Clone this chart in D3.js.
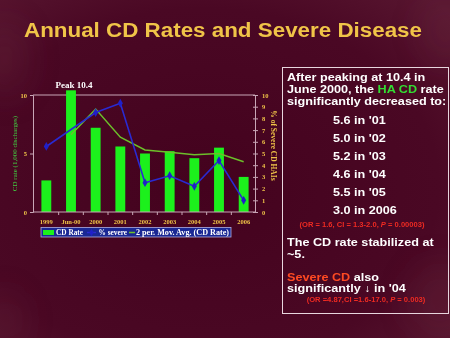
<!DOCTYPE html>
<html>
<head>
<meta charset="utf-8">
<script src="https://cdn.jsdelivr.net/npm/d3@7"></script>
<style>
body { margin: 0; background: #4a0823; }
svg { display: block; }
</style>
</head>
<body>
<script>
var categories = ["1999", "Jun-00", "2000", "2001", "2002", "2003", "2004", "2005", "2006"];
var cdRate = [2.7, 10.4, 7.2, 5.6, 5.0, 5.2, 4.6, 5.5, 3.0];
var pctSevere = [5.6, null, 8.5, 9.3, 2.5, 3.1, 2.2, 4.4, 1.0];
var movAvg = [null, 6.6, 8.8, 6.4, 5.3, 5.1, 4.9, 5.0, 4.3];
var leftTicks = [0, 5, 10];
var rightTicks = [0, 1, 2, 3, 4, 5, 6, 7, 8, 9, 10];
var legendLabels = ["CD Rate", "% severe", "2 per. Mov. Avg. (CD Rate)"];

var titleText = "Annual CD Rates and Severe Disease";
var introLines = [
	[["After peaking at 10.4 in", "#fff"]],
	[["June 2000, the ", "#fff"], ["HA CD", "#33dd33"], [" rate", "#fff"]],
	[["significantly decreased to:", "#fff"]]
];
var rateLines = ["5.6 in '01", "5.0 in '02", "5.2 in '03", "4.6 in '04", "5.5 in '05", "3.0 in 2006"];
var stats1 = [["(OR = 1.6, CI = 1.3-2.0, ", "normal"], ["P", "italic"], [" = 0.00003)", "normal"]];
var stableLines = ["The CD rate stabilized at", "~5."];
var severeLines = [
	[["Severe CD", "#ff4a22"], [" also", "#fff"]],
	[["significantly \u2193 in '04", "#fff"]]
];
var stats2 = [["(OR =4.87,CI =1.6-17.0, ", "normal"], ["P", "italic"], [" = 0.003)", "normal"]];

var W = 450, H = 338;
var SANS = "'Liberation Sans', Arial, sans-serif";
var SERIF = "'Liberation Serif', 'Times New Roman', serif";
var GOLD = "#f0c448";
var AXIS = "#c8a6b6";

var svg = d3.select("body").append("svg").attr("width", W).attr("height", H);
var defs = svg.append("defs");

var bg = defs.append("radialGradient").attr("id", "bg") //
.attr("cx", "45%").attr("cy", "55%").attr("r", "75%");
bg.append("stop").attr("offset", "0%").attr("stop-color", "#44021e");
bg.append("stop").attr("offset", "70%").attr("stop-color", "#4a0824");
bg.append("stop").attr("offset", "100%").attr("stop-color", "#581630");

defs.append("filter").attr("id", "haze") //
.append("feGaussianBlur").attr("stdDeviation", 16);

svg.append("rect").attr("width", W).attr("height", H).attr("fill", "url(#bg)");

// faint glow patches on the slide background
var glows = svg.append("g").attr("filter", "url(#haze)").attr("fill", "#a86070");
glows.append("ellipse").attr("cx", 5).attr("cy", 60).attr("rx", 25).attr("ry", 40).attr("opacity", 0.1);
glows.append("ellipse").attr("cx", 445).attr("cy", 30).attr("rx", 25).attr("ry", 35).attr("opacity", 0.09);
glows.append("ellipse").attr("cx", 440).attr("cy", 300).attr("rx", 35).attr("ry", 40).attr("opacity", 0.08);
glows.append("ellipse").attr("cx", 5).attr("cy", 320).attr("rx", 20).attr("ry", 30).attr("opacity", 0.08);

// title
svg.append("text").attr("x", 24).attr("y", 37) //
.attr("font-family", SANS).attr("font-weight", "bold") //
.attr("font-size", 20).attr("fill", GOLD) //
.attr("textLength", 398).attr("lengthAdjust", "spacingAndGlyphs") //
.text(titleText);

var plotL = 33, plotR = 255, plotT = 95, plotB = 212;

var x = d3.scaleBand().domain(categories).range([ plotL + 1, plotR + 1 ]) //
.paddingInner(0.6).paddingOuter(0.3);
var y = d3.scaleLinear().domain([ 0, 10 ]).range([ plotB, plotT ]);
var yR = d3.scaleLinear().domain([ 0, 10 ]).range([ plotB, plotT ]);

function cx(d, i) {
	return x(categories[i]) + x.bandwidth() / 2;
}

function drawChart() {

	var g = svg.append("g");

	// plot frame top
	g.append("line").attr("x1", plotL).attr("x2", plotR) //
	.attr("y1", plotT).attr("y2", plotT) //
	.attr("stroke", AXIS).attr("stroke-width", 1);

	// bars
	g.selectAll("rect.bar").data(cdRate).enter().append("rect") //
	.attr("class", "bar") //
	.attr("x", function(d, i) {
		return x(categories[i]);
	}) //
	.attr("width", x.bandwidth()) //
	.attr("y", function(d) {
		return y(d);
	}) //
	.attr("height", function(d) {
		return plotB - y(d);
	}) //
	.attr("fill", "#1cf01c");

	// 2 period moving average
	var avgPts = movAvg.map(function(d, i) {
		return { x: cx(d, i), v: d };
	}).filter(function(p) {
		return p.v !== null;
	});
	g.append("path").datum(avgPts) //
	.attr("d", d3.line().x(function(p) {
		return p.x;
	}).y(function(p) {
		return y(p.v);
	})) //
	.attr("fill", "none").attr("stroke", "#6cbf2a").attr("stroke-width", 1.5);

	// % severe line with diamonds
	var sevPts = pctSevere.map(function(d, i) {
		return { x: cx(d, i), v: d };
	}).filter(function(p) {
		return p.v !== null;
	});
	g.append("path").datum(sevPts) //
	.attr("d", d3.line().x(function(p) {
		return p.x;
	}).y(function(p) {
		return yR(p.v);
	})) //
	.attr("fill", "none").attr("stroke", "#2a2ad2").attr("stroke-width", 1.6);

	g.selectAll("path.dia").data(sevPts).enter().append("path") //
	.attr("class", "dia") //
	.attr("d", d3.symbol(d3.symbolDiamond).size(22)) //
	.attr("transform", function(p) {
		return "translate(" + p.x + "," + yR(p.v) + ")";
	}) //
	.attr("fill", "#2020c8");

	// peak label
	g.append("text").attr("x", cx(0, 1) + 3).attr("y", y(cdRate[1]) - 2) //
	.attr("text-anchor", "middle") //
	.attr("font-family", SERIF).attr("font-weight", "bold") //
	.attr("font-size", 9).attr("fill", "#fff") //
	.text("Peak " + cdRate[1]);

	// left axis
	var axL = g.append("g").attr("transform", "translate(" + plotL + ",0)") //
	.call(d3.axisLeft(y).tickValues(leftTicks).tickSize(3).tickPadding(3));
	axL.selectAll("path, line").attr("stroke", AXIS);
	axL.selectAll("text").attr("font-family", SERIF).attr("font-weight", "bold") //
	.attr("font-size", 6.5).attr("fill", GOLD);

	// right axis
	var axR = g.append("g").attr("transform", "translate(" + plotR + ",0)") //
	.call(d3.axisRight(yR).tickValues(rightTicks).tickSize(3).tickPadding(4));
	axR.selectAll("path, line").attr("stroke", AXIS);
	axR.selectAll(".tick line").attr("x1", -2);
	axR.selectAll("text").attr("font-family", SERIF).attr("font-weight", "bold") //
	.attr("font-size", 6.5).attr("fill", GOLD);

	// bottom axis, ticks between categories
	var axB = g.append("g").attr("transform", "translate(0," + plotB + ")") //
	.call(d3.axisBottom(x).tickSize(0).tickPadding(7));
	axB.select("path").attr("d", "M" + plotL + ",0H" + plotR).attr("stroke", AXIS);
	axB.selectAll("text").attr("font-family", SERIF).attr("font-weight", "bold") //
	.attr("font-size", 6.5).attr("fill", GOLD);
	var step = x.step();
	axB.selectAll("line.sep").data(categories.slice(1)).enter().append("line") //
	.attr("class", "sep") //
	.attr("x1", function(c) {
		return x(c) - step * x.paddingInner() / 2;
	}) //
	.attr("x2", function(c) {
		return x(c) - step * x.paddingInner() / 2;
	}) //
	.attr("y1", 0).attr("y2", 3).attr("stroke", AXIS);

	// axis titles
	g.append("text").attr("transform", "translate(17," + ((plotT + plotB) / 2) + ") rotate(-90)") //
	.attr("text-anchor", "middle") //
	.attr("font-family", SERIF).attr("font-size", 7).attr("fill", "#40d040") //
	.text("CD rate (1,000 discharges)");
	g.append("text").attr("transform", "translate(271," + ((plotT + plotB) / 2 - 8) + ") rotate(90)") //
	.attr("text-anchor", "middle") //
	.attr("font-family", SERIF).attr("font-weight", "bold") //
	.attr("font-size", 7.5).attr("fill", GOLD) //
	.text("% of Severe CD HAIs");

}// END: drawChart

function drawLegend() {

	var lg = svg.append("g").attr("transform", "translate(41,227.5)");
	lg.append("rect").attr("width", 190).attr("height", 9.5) //
	.attr("fill", "#1a2894").attr("stroke", "#b0b0e0").attr("stroke-width", 0.8);

	lg.append("rect").attr("x", 2).attr("y", 2.5).attr("width", 11).attr("height", 5) //
	.attr("fill", "#1cf01c");
	lg.append("line").attr("x1", 46).attr("x2", 55).attr("y1", 5).attr("y2", 5) //
	.attr("stroke", "#2a2ad2").attr("stroke-width", 1.4);
	lg.append("path").attr("d", d3.symbol(d3.symbolDiamond).size(16)) //
	.attr("transform", "translate(50.5,5)").attr("fill", "#2020c8");
	lg.append("line").attr("x1", 88).attr("x2", 94).attr("y1", 5).attr("y2", 5) //
	.attr("stroke", "#6cbf2a").attr("stroke-width", 1.5);

	var lx = [ 15, 57.5, 95 ];
	var lw = [ 27, 28.5, 93 ];
	lg.selectAll("text").data(legendLabels).enter().append("text") //
	.attr("x", function(d, i) {
		return lx[i];
	}) //
	.attr("y", 7.6) //
	.attr("textLength", function(d, i) {
		return lw[i];
	}) //
	.attr("lengthAdjust", "spacingAndGlyphs") //
	.attr("font-family", SERIF).attr("font-weight", "bold") //
	.attr("font-size", 7.4).attr("fill", "#fff") //
	.text(function(d) {
		return d;
	});

}// END: drawLegend

function panelText(parent, segs, x0, y0, size, sx) {

	var t = parent.append("text") //
	.attr("transform", "translate(" + x0 + "," + y0 + ") scale(" + sx + ",1)") //
	.attr("font-family", SANS).attr("font-weight", "bold").attr("font-size", size);
	segs.forEach(function(s) {
		t.append("tspan").attr("fill", s[1]).text(s[0]);
	});
	return t;

}// END: panelText

function statsText(parent, segs, xc, y0) {

	var t = parent.append("text") //
	.attr("transform", "translate(" + xc + "," + y0 + ") scale(1.15,1)") //
	.attr("text-anchor", "middle") //
	.attr("font-family", SANS).attr("font-weight", "bold") //
	.attr("font-size", 6.6).attr("fill", "#ee2a22");
	segs.forEach(function(s) {
		t.append("tspan").attr("font-style", s[1]).text(s[0]);
	});

}// END: statsText

function drawPanel() {

	var p = svg.append("g");
	p.append("rect").attr("x", 282.5).attr("y", 67.5).attr("width", 166).attr("height", 246) //
	.attr("fill", "none").attr("stroke", "#e8d6de").attr("stroke-width", 1);

	var SX = 1.24, FS = 10.2;
	introLines.forEach(function(segs, i) {
		panelText(p, segs, 287, 80.5 + i * 12.2, FS, SX);
	});
	rateLines.forEach(function(s, i) {
		panelText(p, [ [ s, "#fff" ] ], 333, 124 + i * 18, FS, SX);
	});
	statsText(p, stats1, 362, 227);
	stableLines.forEach(function(s, i) {
		panelText(p, [ [ s, "#fff" ] ], 287, 246.3 + i * 11.8, FS, SX);
	});
	severeLines.forEach(function(segs, i) {
		panelText(p, segs, 287, 280.5 + i * 11.8, FS, SX);
	});
	statsText(p, stats2, 366, 302.3);

}// END: drawPanel

drawChart();
drawLegend();
drawPanel();
</script>
</body>
</html>
